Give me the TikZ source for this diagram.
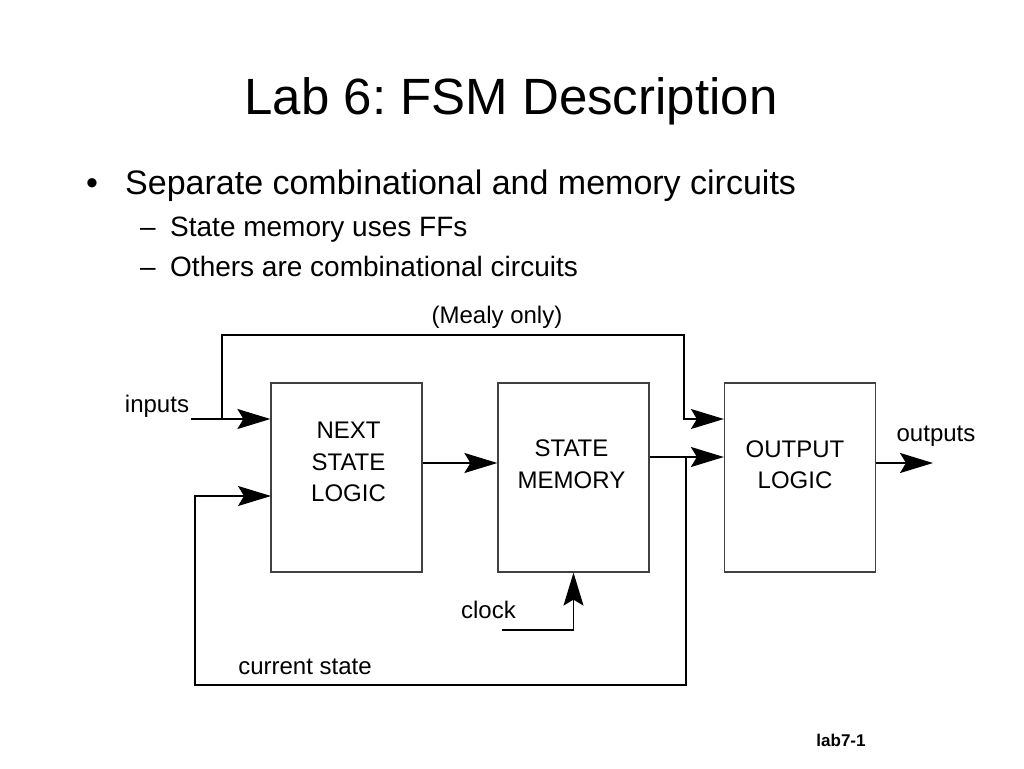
\documentclass[tikz,border=0pt]{standalone}
\usepackage{fontspec}
\setmainfont{Liberation Sans}
\usetikzlibrary{arrows.meta}
\frenchspacing
\tikzset{
  blk/.style={draw=black!75, line width=1.2pt, minimum width=151pt, minimum height=189pt, inner sep=0pt},
  tip/.style={-{Stealth[length=33pt,width=20pt,inset=6pt]}},
  sig/.style={tip, line width=1.9pt},
  thinsig/.style={tip, line width=1.3pt},
  lbl/.style={font=\fontsize{24}{24}\selectfont, inner sep=0pt, anchor=base},
  blktxt/.style={font=\fontsize{24}{31.5}\selectfont, align=center, inner sep=0pt},
  ttl/.style={font=\fontsize{51}{51}\selectfont, inner sep=0pt, anchor=base},
  lv1/.style={font=\fontsize{34}{34}\selectfont, inner sep=0pt, anchor=base west},
  lv2/.style={font=\fontsize{28}{28}\selectfont, inner sep=0pt, anchor=base west}
}
\begin{document}
\begin{tikzpicture}[x=1pt,y=-1pt]
\useasboundingbox (0,0) rectangle (1024,768);
% title and bullets
\node[ttl] (title) at (511,114) {Lab 6: FSM Description};
\node[lv1, anchor=base] (dot1) at (92,194) {\textbullet};
\node[lv1] (b1) at (125,194) {Separate combinational and memory circuits};
\node[lv2] (dash1) at (140,236) {–};
\node[lv2] (b2) at (170,236) {State memory uses FFs};
\node[lv2] (dash2) at (140,276) {–};
\node[lv2] (b3) at (170,276) {Others are combinational circuits};
% blocks
\node[blk] (ns) at (346.5,477.5) {};
\node[blk] (sm) at (573.5,477.5) {};
\node[blk] (ol) at (800,477.5) {};
\node[blktxt] (nst) at (348.5,462) {NEXT\\STATE\\LOGIC};
\node[blktxt] (smt) at (571.5,464) {STATE\\MEMORY};
\node[blktxt] (olt) at (795,464.5) {OUTPUT\\LOGIC};
% labels
\node[lbl] (linputs) at (157,412) {inputs};
\node[lbl] (lmealy) at (497,323) {(Mealy only)};
\node[lbl] (loutputs) at (936,441) {outputs};
\node[lbl] (lclock) at (488.5,618) {clock};
\node[lbl] (lcur) at (305,674) {current state};
\node[font=\bfseries\fontsize{17}{17}\selectfont, inner sep=0pt, anchor=base] (lab) at (841,746) {lab7-1};
% connectors
\coordinate (inS) at (191,419);
\coordinate (mB) at (222,419);
\coordinate (mT) at (684,335);
\coordinate (mD) at (684,419);
\coordinate (fb) at (686,457);
\coordinate (fbL) at (195,685);
\coordinate (ns2) at (271,496);
\coordinate (clk) at (502,630);
\coordinate (outE) at (933,463);
\draw[sig] (inS) -- (ns.west |- inS);
\draw[thinsig] (mB) |- (mT) -- (mD) -- (ol.west |- mD);
\draw[sig] (ns.east |- 0,463) -- (sm.west |- 0,463);
\draw[sig] (sm.east |- fb) -- (ol.west |- fb);
\draw[thinsig] (fb) |- (fbL) |- (ns2);
\draw[thinsig] (clk) -| (sm.south);
\draw[sig] (ol.east |- outE) -- (outE);
\end{tikzpicture}
\end{document}
